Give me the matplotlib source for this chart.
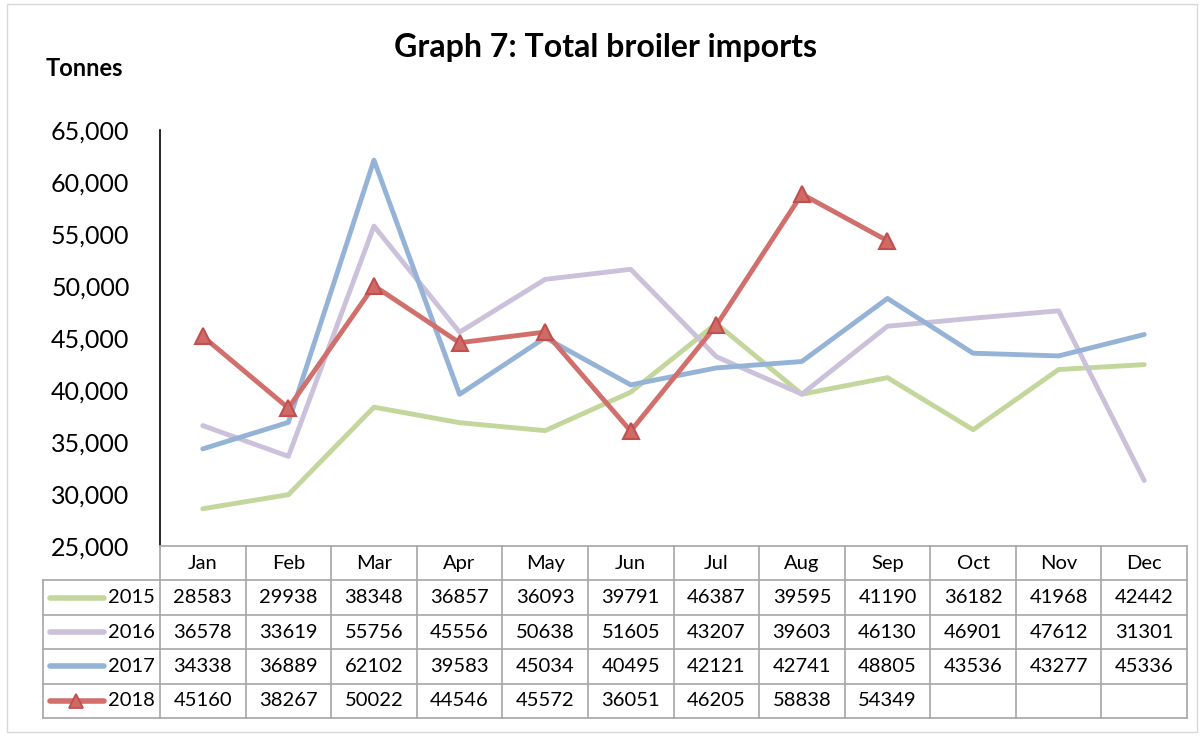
import numpy as np
import matplotlib.pyplot as plt

plt.rcParams['font.family'] = ['Lato', 'DejaVu Sans']

months = ['Jan', 'Feb', 'Mar', 'Apr', 'May', 'Jun', 'Jul', 'Aug', 'Sep', 'Oct', 'Nov', 'Dec']
years = ['2015', '2016', '2017', '2018']
v2015 = [28583, 29938, 38348, 36857, 36093, 39791, 46387, 39595, 41190, 36182, 41968, 42442]
v2016 = [36578, 33619, 55756, 45556, 50638, 51605, 43207, 39603, 46130, 46901, 47612, 31301]
v2017 = [34338, 36889, 62102, 39583, 45034, 40495, 42121, 42741, 48805, 43536, 43277, 45336]
v2018 = [45160, 38267, 50022, 44546, 45572, 36051, 46205, 58838, 54349]
series = [v2015, v2016, v2017, v2018]
colors = ['#C3D69B', '#CCC1DA', '#95B3D7', '#D16F6C']

W, H = 1202, 736
fig = plt.figure(figsize=(W / 100, H / 100), dpi=100)

# outer frame
fig.add_artist(plt.Rectangle((7 / W, 4 / H), 1190 / W, 728 / H, transform=fig.transFigure,
                             fill=False, ec='#D9D9D9', lw=1))

# plot area in pixels
x0, x1, ytop, ybot = 160, 1187, 130, 546
ax = fig.add_axes([x0 / W, 1 - ybot / H, (x1 - x0) / W, (ybot - ytop) / H])
x = np.arange(12)
for i, (vals, c) in enumerate(zip(series, colors)):
    if i == 3:
        ax.plot(x[:len(vals)], vals, color=c, lw=3.5, solid_capstyle='round',
                solid_joinstyle='round', marker='^', ms=12, mfc='#D06A67', mec='#C0504D', mew=1.5,
                zorder=5)
    else:
        ax.plot(x[:len(vals)], vals, color=c, lw=3.5, solid_capstyle='round',
                solid_joinstyle='round', zorder=2 + i)
ax.set_xlim(-0.5, 11.5)
ax.set_ylim(25000, 65000)
ax.set_yticks(np.arange(25000, 65001, 5000))
ax.set_yticklabels([f'{v:,}' for v in range(25000, 65001, 5000)], fontsize=18)
ax.tick_params(axis='y', length=0, pad=22)
ax.set_xticks([])
for s in ['top', 'right', 'bottom']:
    ax.spines[s].set_visible(False)
ax.spines['left'].set_linewidth(1.2)
ax.patch.set_alpha(0)

fig.text(605 / W, 1 - 48 / H, 'Graph 7: Total broiler imports', ha='center', va='center',
         fontsize=23, fontweight='bold')
fig.text(46 / W, 1 - 68 / H, 'Tonnes', ha='left', va='center', fontsize=17, fontweight='bold')

# data table below the plot
colw = (x1 - x0) / 12
lx0 = 43
tb = 718
tax = fig.add_axes([lx0 / W, 1 - tb / H, (x1 - lx0) / W, (tb - ybot) / H])
left = -0.5 - (x0 - lx0) / colw
tax.set_xlim(left, 11.5)
tax.set_ylim(5, 0)
tax.axis('off')
gc = '#A6A6A6'
# header
for i, m in enumerate(months):
    tax.text(i, 0.5, m, ha='center', va='center', fontsize=14.5)
for r, (yr, vals, c) in enumerate(zip(years, series, colors)):
    yy = r + 1.5
    tax.plot([left + 0.08, left + 0.71], [yy, yy], color=c, lw=4, solid_capstyle='round')
    if r == 3:
        tax.plot([left + 0.39], [yy], marker='^', ms=10, mfc='#D06A67', mec='#C0504D', mew=1.3)
    tax.text(-0.56, yy, yr, ha='right', va='center', fontsize=14.5)
    for i, v in enumerate(vals):
        tax.text(i, yy, str(v), ha='center', va='center', fontsize=14.5)
# grid
for k in range(0, 6):
    xs = left if k >= 1 else -0.5
    tax.plot([xs, 11.5], [k, k], color=gc, lw=1.2, clip_on=False)
for i in range(13):
    tax.plot([i - 0.5, i - 0.5], [0, 5], color=gc, lw=1.2, clip_on=False)
tax.plot([left, left], [1, 5], color=gc, lw=1.2, clip_on=False)

fig.savefig('out.png', dpi=100)
